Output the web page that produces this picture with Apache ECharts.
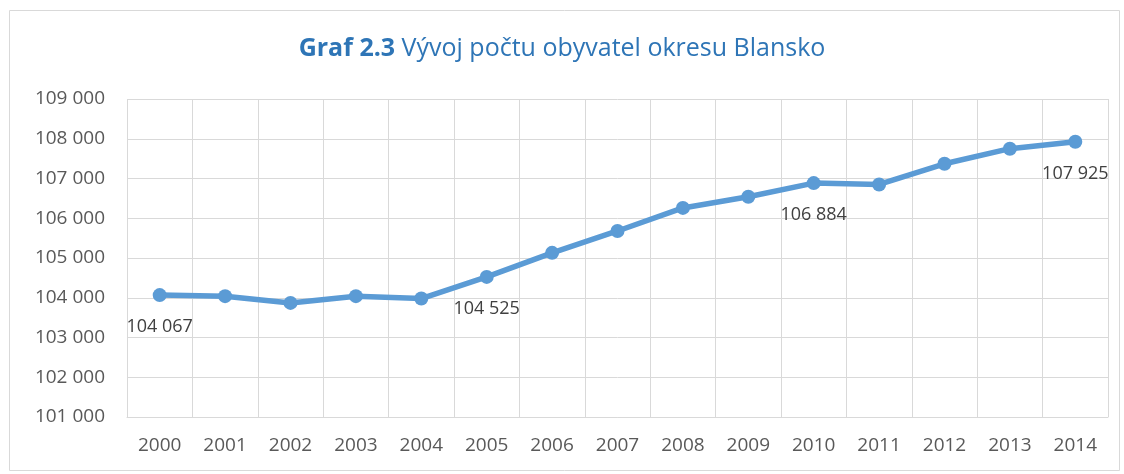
<!DOCTYPE html>
<html>
<head>
<meta charset="utf-8">
<script src="https://cdn.jsdelivr.net/npm/echarts@6/dist/echarts.min.js"></script>
<style>
html,body{margin:0;padding:0;background:#fff;}
#main{width:1124px;height:474px;}
</style>
</head>
<body>
<div id="main"></div>
<script>
// data
var years=["2000","2001","2002","2003","2004","2005","2006","2007","2008","2009","2010","2011","2012","2013","2014"];
var population=[104067,104040,103870,104040,103980,104525,105130,105680,106260,106540,106884,106850,107370,107750,107925];
var labelledYears=["2000","2005","2010","2014"];

var fmt=function(v){
  return String(v).replace(/\B(?=(\d{3})+(?!\d))/g," ");
}

var myChart=echarts.init(document.getElementById('main'));

var seriesData=[];
for(var i=0;i<population.length;i++){
  var show=labelledYears.indexOf(years[i])>=0;
  seriesData.push({value:population[i],label:{show:show}});
}

var options={
  textStyle:{fontFamily:"Open Sans"},
  title:{
    text:"{b|Graf 2.3} Vývoj počtu obyvatel okresu Blansko",
    left:"center",
    top:31,
    textStyle:{
      fontSize:25,
      fontWeight:"normal",
      color:"#2E75B6",
      fontFamily:"Open Sans",
      rich:{
        b:{fontSize:25,fontWeight:"bold",color:"#2E75B6",fontFamily:"Open Sans"}
      }
    }
  },
  graphic:[{
    type:"rect",
    shape:{x:9.5,y:10.5,width:1110,height:460},
    style:{fill:"none",stroke:"#d9d9d9",lineWidth:1},
    silent:true
  }],
  grid:{left:127,right:16,top:99,bottom:57},
  xAxis:{
    type:"category",
    data:years,
    boundaryGap:true,
    axisLine:{show:true,lineStyle:{color:"#d9d9d9"}},
    axisTick:{show:false},
    splitLine:{show:true,lineStyle:{color:"#d9d9d9",width:1}},
    axisLabel:{color:"#595959",fontSize:19,margin:19,interval:0}
  },
  yAxis:{
    type:"value",
    min:101000,
    max:109000,
    interval:1000,
    axisLine:{show:false},
    axisTick:{show:false},
    splitLine:{lineStyle:{color:"#d9d9d9",width:1}},
    axisLabel:{color:"#595959",fontSize:19,margin:22,formatter:fmt}
  },
  series:[{
    type:"line",
    data:seriesData,
    symbol:"circle",
    symbolSize:14,
    lineStyle:{color:"#5B9BD5",width:5.5},
    itemStyle:{color:"#5B9BD5"},
    label:{
      position:"bottom",
      distance:16,
      color:"#404040",
      fontSize:18,
      formatter:function(p){return fmt(p.value);}
    },
    animation:false
  }]
};
myChart.setOption(options);
</script>
</body>
</html>
